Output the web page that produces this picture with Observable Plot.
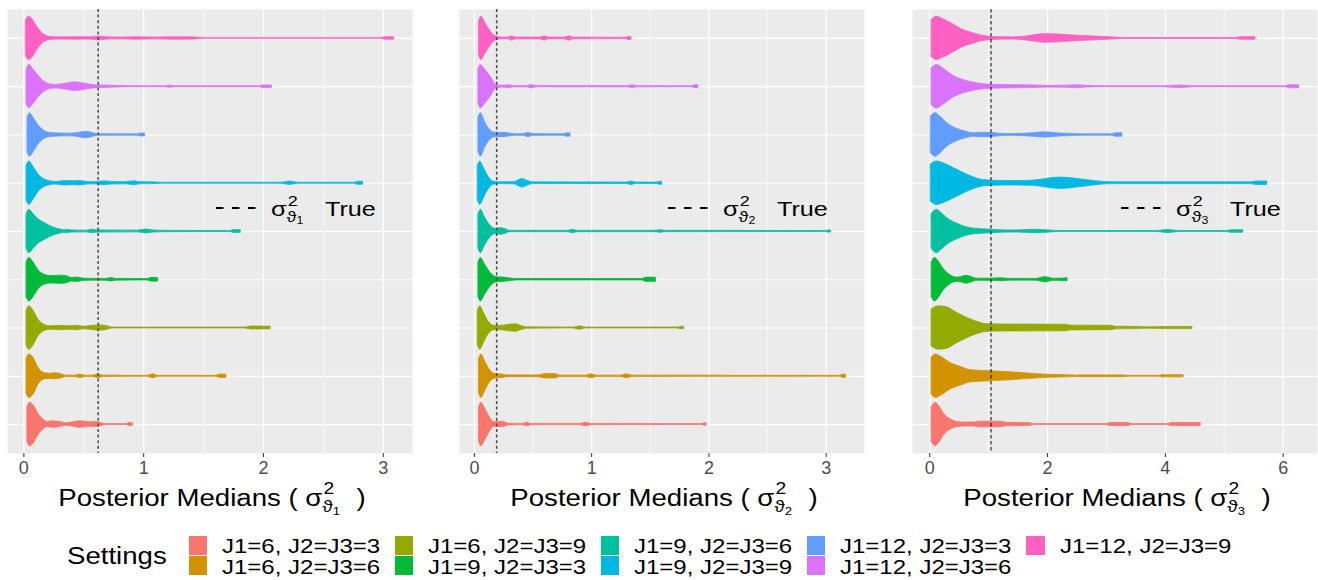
<!DOCTYPE html>
<html>
<head>
<meta charset="utf-8">
<script src="https://cdn.jsdelivr.net/npm/d3@7"></script>
<script src="https://cdn.jsdelivr.net/npm/@observablehq/plot@0.6"></script>
<style>
  body { margin: 0; background: #fff; }
  #fig { position: relative; width: 1318px; height: 580px; overflow: hidden;
         font-family: "Liberation Sans", Arial, Helvetica, sans-serif; color: #000; }
  .panel { position: absolute; top: 0; }
  .xtitle { position: absolute; white-space: nowrap; font-size: 23px; line-height: 1;
            transform: translateX(-50%) scaleX(1.2); transform-origin: center; }
  .stack { display: inline-block; position: relative; height: 0; vertical-align: baseline; }
  .stack .sup, .stack .sub { position: absolute; left: 0; line-height: 1; white-space: nowrap; }
  .stack .sub small { font-size: 0.68em; position: relative; top: 0.25em; }
  .annot { position: absolute; white-space: nowrap; line-height: 1; font-size: 21px;
           transform: scaleX(1.2); transform-origin: left center; }
  .legtitle { position: absolute; font-size: 23px; line-height: 1; white-space: nowrap;
              transform: scaleX(1.2); transform-origin: left center; }
  .key { position: absolute; width: 18.5px; height: 19px; }
  .leglab { position: absolute; font-size: 20px; line-height: 1; white-space: nowrap;
            transform: scaleX(1.2); transform-origin: left center; }
</style>
</head>
<body>
<div id="fig"></div>
<script>
// Simulation settings (legend order) and their ggplot hue colours
const settings = [
  "J1=6, J2=J3=3", "J1=6, J2=J3=6", "J1=6, J2=J3=9",
  "J1=9, J2=J3=3", "J1=9, J2=J3=6", "J1=9, J2=J3=9",
  "J1=12, J2=J3=3", "J1=12, J2=J3=6", "J1=12, J2=J3=9"
];
const settingColors = ["#F8766D", "#D39200", "#93AA00", "#00BA38", "#00C19F",
                       "#00B9E3", "#619CFF", "#DB72FB", "#FF61C3"];

// Violin profiles of the posterior medians: [value, relative density] per setting
const sigma1Medians = [
  [[0.03,0.8],[0.05,1.0],[0.08,0.9],[0.12,0.5],[0.17,0.2],[0.2,0.12],[0.24,0.15],[0.3,0.12],[0.35,0.06],[0.4,0.09],[0.46,0.15],[0.52,0.13],[0.56,0.1],[0.6,0.12],[0.64,0.08],[0.68,0.02],[0.86,0.02],[0.88,0.08],[0.91,0.06]],
  [[0.023,0.8],[0.045,1.0],[0.08,0.85],[0.12,0.4],[0.17,0.15],[0.22,0.12],[0.26,0.14],[0.31,0.1],[0.35,0.03],[0.43,0.03],[0.47,0.08],[0.51,0.03],[0.58,0.03],[0.62,0.09],[0.66,0.03],[1.03,0.02],[1.08,0.09],[1.12,0.02],[1.6,0.02],[1.64,0.08],[1.69,0.07]],
  [[0.023,0.8],[0.045,1.0],[0.08,0.8],[0.12,0.4],[0.17,0.15],[0.22,0.08],[0.3,0.1],[0.38,0.08],[0.44,0.1],[0.5,0.06],[0.58,0.1],[0.64,0.12],[0.7,0.08],[0.74,0.02],[1.85,0.02],[1.9,0.07],[2.06,0.06]],
  [[0.023,0.8],[0.045,1.0],[0.08,0.8],[0.12,0.45],[0.19,0.2],[0.24,0.17],[0.3,0.19],[0.36,0.16],[0.4,0.08],[0.45,0.1],[0.5,0.05],[0.6,0.04],[0.69,0.04],[0.73,0.08],[0.77,0.04],[1.03,0.03],[1.07,0.09],[1.12,0.08]],
  [[0.023,0.8],[0.045,1.0],[0.08,0.8],[0.12,0.57],[0.18,0.37],[0.24,0.2],[0.3,0.1],[0.34,0.06],[0.36,0.08],[0.4,0.05],[0.53,0.04],[0.57,0.08],[0.62,0.05],[0.95,0.04],[1.02,0.09],[1.08,0.05],[1.2,0.03],[1.72,0.02],[1.76,0.07],[1.81,0.06]],
  [[0.023,0.8],[0.045,1.0],[0.08,0.75],[0.13,0.35],[0.2,0.12],[0.27,0.06],[0.34,0.1],[0.41,0.09],[0.47,0.1],[0.53,0.06],[0.6,0.05],[0.67,0.09],[0.73,0.06],[0.85,0.05],[0.92,0.09],[0.97,0.05],[1.06,0.04],[1.15,0.02],[2.15,0.02],[2.22,0.08],[2.29,0.02],[2.76,0.02],[2.79,0.07],[2.83,0.07]],
  [[0.031,0.8],[0.05,1.0],[0.08,0.8],[0.12,0.45],[0.17,0.2],[0.22,0.09],[0.3,0.07],[0.4,0.06],[0.46,0.1],[0.52,0.15],[0.58,0.08],[0.62,0.03],[0.95,0.03],[0.98,0.07],[1.01,0.07]],
  [[0.023,0.8],[0.045,1.0],[0.08,0.8],[0.11,0.58],[0.16,0.28],[0.22,0.11],[0.27,0.08],[0.33,0.12],[0.43,0.2],[0.52,0.13],[0.58,0.08],[0.66,0.06],[0.77,0.04],[0.9,0.02],[1.18,0.02],[1.22,0.05],[1.26,0.02],[1.97,0.02],[2.0,0.06],[2.07,0.06]],
  [[0.017,0.8],[0.04,1.0],[0.07,0.9],[0.106,0.58],[0.148,0.28],[0.19,0.12],[0.22,0.07],[0.3,0.05],[0.45,0.06],[0.55,0.05],[0.62,0.09],[0.7,0.05],[0.82,0.04],[0.95,0.06],[1.1,0.04],[1.25,0.06],[1.42,0.05],[1.5,0.01],[2.98,0.01],[3.02,0.06],[3.09,0.06]]
];
const sigma2Medians = [
  [[0.04,0.8],[0.06,1.0],[0.09,0.75],[0.13,0.35],[0.17,0.1],[0.21,0.12],[0.25,0.12],[0.29,0.04],[0.42,0.03],[0.45,0.09],[0.48,0.03],[0.91,0.03],[0.95,0.09],[0.99,0.03],[1.94,0.02],[1.96,0.06],[1.98,0.06]],
  [[0.04,0.8],[0.06,1.0],[0.09,0.7],[0.13,0.3],[0.18,0.1],[0.24,0.08],[0.28,0.04],[0.55,0.04],[0.6,0.1],[0.69,0.1],[0.73,0.03],[0.95,0.03],[1.0,0.09],[1.04,0.03],[1.25,0.03],[1.3,0.09],[1.35,0.03],[3.12,0.02],[3.14,0.07],[3.17,0.07]],
  [[0.03,0.8],[0.05,1.0],[0.08,0.7],[0.12,0.3],[0.17,0.1],[0.23,0.1],[0.3,0.15],[0.35,0.17],[0.41,0.08],[0.45,0.03],[0.85,0.02],[0.9,0.08],[0.95,0.02],[1.74,0.02],[1.76,0.06],[1.79,0.05]],
  [[0.035,0.8],[0.055,1.0],[0.09,0.7],[0.14,0.3],[0.19,0.12],[0.25,0.1],[0.31,0.06],[0.36,0.03],[1.43,0.03],[1.47,0.1],[1.55,0.09]],
  [[0.035,0.8],[0.055,1.0],[0.09,0.65],[0.14,0.25],[0.18,0.12],[0.22,0.15],[0.27,0.1],[0.3,0.03],[0.8,0.03],[0.84,0.08],[0.88,0.03],[1.55,0.03],[1.59,0.06],[1.63,0.03],[3.0,0.02],[3.02,0.05],[3.04,0.05]],
  [[0.03,0.8],[0.05,1.0],[0.08,0.7],[0.12,0.3],[0.16,0.08],[0.22,0.04],[0.34,0.05],[0.41,0.2],[0.45,0.12],[0.5,0.04],[1.3,0.03],[1.34,0.08],[1.38,0.03],[1.56,0.03],[1.58,0.07],[1.6,0.07]],
  [[0.035,0.8],[0.055,1.0],[0.09,0.6],[0.14,0.2],[0.18,0.1],[0.25,0.1],[0.31,0.06],[0.36,0.03],[0.42,0.04],[0.46,0.1],[0.5,0.04],[0.76,0.03],[0.79,0.08],[0.82,0.07]],
  [[0.035,0.8],[0.055,1.0],[0.09,0.8],[0.14,0.45],[0.19,0.08],[0.24,0.04],[0.3,0.07],[0.34,0.03],[0.45,0.03],[0.49,0.08],[0.53,0.03],[1.31,0.03],[1.35,0.07],[1.39,0.03],[1.86,0.02],[1.88,0.07],[1.91,0.07]],
  [[0.04,0.8],[0.06,1.0],[0.09,0.75],[0.13,0.4],[0.18,0.1],[0.24,0.04],[0.29,0.04],[0.32,0.1],[0.35,0.04],[0.56,0.04],[0.6,0.1],[0.63,0.04],[0.77,0.04],[0.81,0.1],[0.84,0.04],[1.29,0.03],[1.31,0.07],[1.34,0.07]]
];
const sigma3Medians = [
  [[0.034,0.8],[0.1,1.0],[0.16,0.85],[0.24,0.5],[0.36,0.23],[0.47,0.12],[0.6,0.09],[0.75,0.09],[0.85,0.13],[1.2,0.13],[1.3,0.08],[1.7,0.07],[1.76,0.02],[3.0,0.02],[3.06,0.07],[3.38,0.07],[3.43,0.02],[4.05,0.02],[4.1,0.07],[4.6,0.07]],
  [[0.034,0.85],[0.1,1.0],[0.19,0.9],[0.36,0.6],[0.53,0.43],[0.7,0.28],[1.04,0.23],[1.38,0.18],[1.66,0.13],[2.0,0.07],[2.34,0.05],[2.5,0.03],[2.56,0.04],[3.3,0.04],[3.4,0.02],[3.9,0.02],[3.95,0.05],[4.31,0.05]],
  [[0.034,0.85],[0.15,1.0],[0.3,0.95],[0.45,0.72],[0.62,0.49],[0.79,0.3],[0.96,0.18],[1.2,0.16],[2.31,0.15],[2.4,0.11],[3.1,0.1],[3.15,0.06],[3.55,0.05],[3.65,0.03],[3.9,0.04],[4.0,0.05],[4.46,0.05]],
  [[0.034,0.8],[0.09,1.0],[0.15,0.85],[0.22,0.55],[0.33,0.25],[0.45,0.1],[0.53,0.12],[0.62,0.18],[0.72,0.12],[0.8,0.05],[1.03,0.05],[1.2,0.07],[1.37,0.04],[1.8,0.04],[1.97,0.12],[2.1,0.05],[2.2,0.05],[2.34,0.07]],
  [[0.034,0.8],[0.12,1.0],[0.2,0.85],[0.28,0.65],[0.45,0.38],[0.62,0.2],[0.79,0.12],[1.07,0.08],[1.3,0.05],[1.52,0.05],[1.75,0.08],[2.03,0.05],[2.2,0.02],[3.85,0.02],[4.05,0.07],[4.25,0.02],[5.05,0.02],[5.12,0.06],[5.32,0.06]],
  [[0.02,0.85],[0.12,1.0],[0.25,0.9],[0.39,0.72],[0.56,0.49],[0.73,0.29],[0.9,0.15],[1.07,0.12],[1.41,0.1],[1.75,0.12],[2.2,0.26],[2.65,0.15],[2.94,0.06],[3.2,0.04],[5.45,0.04],[5.55,0.08],[5.73,0.08]],
  [[0.02,0.85],[0.1,1.0],[0.18,0.85],[0.28,0.58],[0.45,0.3],[0.62,0.15],[0.73,0.08],[0.84,0.1],[1.0,0.1],[1.18,0.06],[1.4,0.04],[1.75,0.08],[1.97,0.12],[2.2,0.07],[2.4,0.05],[2.6,0.03],[3.1,0.03],[3.15,0.08],[3.27,0.08]],
  [[0.034,0.85],[0.12,1.0],[0.25,0.8],[0.4,0.5],[0.56,0.32],[0.7,0.22],[0.85,0.14],[1.07,0.09],[1.4,0.07],[1.79,0.06],[2.0,0.04],[2.36,0.05],[2.5,0.07],[2.65,0.04],[3.0,0.02],[3.95,0.02],[4.25,0.06],[4.5,0.02],[6.05,0.02],[6.1,0.07],[6.27,0.07]],
  [[0.034,0.85],[0.12,1.0],[0.22,0.9],[0.39,0.66],[0.56,0.4],[0.73,0.25],[0.9,0.12],[1.07,0.07],[1.41,0.05],[1.6,0.08],[1.97,0.2],[2.54,0.12],[3.1,0.05],[3.3,0.02],[5.2,0.02],[5.28,0.06],[5.53,0.06]]
];

// True variance components (dashed reference lines)
const trueValues = [0.62, 0.19, 1.04];
const parameterIndex = ["1", "2", "3"];
const majorTicks = [[0, 1, 2, 3], [0, 1, 2, 3], [0, 2, 4, 6]];
const minorTicks = [[0.5, 1.5, 2.5], [0.5, 1.5, 2.5], [1, 3, 5]];

const panels = [sigma1Medians, sigma2Medians, sigma3Medians];
const fig = document.getElementById("fig");

// panel geometry (pixels)
const panelLeft = [7, 459, 912];
const panelWidth = 405;
const panelTop = 9;
const panelHeight = 444;
const side = 2;
const bottom = 30;
const halfWidth = 0.45;   // violin half-width in row units

function sigmaLabel(idx, subSize, supBottom, subBottom, stackWidth) {
  return `σ<span class="stack" style="width:${stackWidth}px">` +
    `<span class="sup" style="font-size:${subSize}px;bottom:${supBottom}px;left:1px">2</span>` +
    `<span class="sub" style="font-size:${subSize}px;bottom:${subBottom}px">ϑ<small>${idx}</small></span></span>`;
}

panels.forEach((profiles, p) => {
  const rows = [];
  profiles.forEach((prof, i) => prof.forEach(([v, d]) => rows.push({setting: settings[i], row: i + 1, v, d})));
  const [lo, hi] = d3.extent(rows, r => r.v);
  const pad = (hi - lo) * 0.05;

  const plot = Plot.plot({
    width: panelWidth + 2 * side,
    height: panelTop + panelHeight + bottom,
    marginLeft: side, marginRight: side, marginTop: panelTop, marginBottom: bottom,
    style: {fontFamily: '"Liberation Sans", Arial, sans-serif', fontSize: "18px", background: "transparent", overflow: "visible"},
    x: {domain: [lo - pad, hi + pad]},
    y: {domain: [0.4, 9.6], axis: null},
    color: {domain: settings, range: settingColors},
    marks: [
      Plot.frame({fill: "#EBEBEB", stroke: "none"}),
      Plot.gridX(minorTicks[p], {stroke: "#fff", strokeOpacity: 1, strokeWidth: 0.6}),
      Plot.gridX(majorTicks[p], {stroke: "#fff", strokeOpacity: 1, strokeWidth: 1.2}),
      Plot.gridY(d3.range(1, 10), {stroke: "#fff", strokeOpacity: 1, strokeWidth: 1.2}),
      Plot.areaY(rows, {
        x: "v",
        y1: r => r.row - r.d * halfWidth,
        y2: r => r.row + r.d * halfWidth,
        z: "setting", fill: "setting", stroke: "setting",
        strokeWidth: 0.8, curve: "monotone-x"
      }),
      Plot.ruleX([trueValues[p]], p < 2
        ? {stroke: "#4a4a4a", strokeWidth: 1.5, strokeDasharray: "3,2.6"}
        : {stroke: "#000", strokeWidth: 1, strokeDasharray: "3.5,2.5"}),
      Plot.axisX({ticks: majorTicks[p], tickFormat: d => String(d), label: null,
                  tickSize: 4, tickPadding: 4, stroke: "#333", fill: "#4D4D4D", fontSize: 18})
    ]
  });
  plot.classList.add("panel");
  plot.style.left = (panelLeft[p] - side) + "px";
  fig.appendChild(plot);

  // x-axis title
  const t = document.createElement("div");
  t.className = "xtitle";
  t.style.left = (panelLeft[p] + panelWidth / 2 + 2) + "px";
  t.style.top = "487px";
  t.innerHTML = `Posterior Medians ( ${sigmaLabel(parameterIndex[p], 16, 9, -9, 22)} )`;
  fig.appendChild(t);

  // inside key for the dashed reference line
  const k = document.createElementNS("http://www.w3.org/2000/svg", "svg");
  k.setAttribute("width", 42); k.setAttribute("height", 6);
  k.style.position = "absolute";
  k.style.left = (panelLeft[p] + 208) + "px";
  k.style.top = "205px";
  const ln = document.createElementNS("http://www.w3.org/2000/svg", "line");
  ln.setAttribute("x1", 1); ln.setAttribute("x2", 41); ln.setAttribute("y1", 3); ln.setAttribute("y2", 3);
  ln.setAttribute("stroke", "#000"); ln.setAttribute("stroke-width", 2);
  ln.setAttribute("stroke-dasharray", "7.5,8.5");
  k.appendChild(ln);
  fig.appendChild(k);

  const a = document.createElement("div");
  a.className = "annot";
  a.style.left = (panelLeft[p] + 264) + "px";
  a.style.top = "198px";
  a.innerHTML = sigmaLabel(parameterIndex[p], 15, 8, -8, 20);
  fig.appendChild(a);

  const tr = document.createElement("div");
  tr.className = "annot";
  tr.style.left = (panelLeft[p] + 318) + "px";
  tr.style.top = "198px";
  tr.textContent = "True";
  fig.appendChild(tr);
});

// legend: title plus two-row columns of keys
const lt = document.createElement("div");
lt.className = "legtitle";
lt.textContent = "Settings";
lt.style.left = "67px";
lt.style.top = "545px";
fig.appendChild(lt);

const rowTop = [535.5, 556];
let colX = 188.5;
for (let c = 0; c * 2 < settings.length; c++) {
  let colW = 0;
  for (let r = 0; r < 2; r++) {
    const i = c * 2 + r;
    if (i >= settings.length) break;
    const key = document.createElement("div");
    key.className = "key";
    key.style.left = colX + "px";
    key.style.top = rowTop[r] + "px";
    key.style.background = settingColors[i];
    fig.appendChild(key);
    const lab = document.createElement("div");
    lab.className = "leglab";
    lab.textContent = settings[i];
    lab.style.left = (colX + 33.5) + "px";
    lab.style.top = (rowTop[r] + 0.5) + "px";
    fig.appendChild(lab);
    colW = Math.max(colW, lab.getBoundingClientRect().width);
  }
  colX += 33.5 + colW + 14.5;
}
</script>
</body>
</html>
